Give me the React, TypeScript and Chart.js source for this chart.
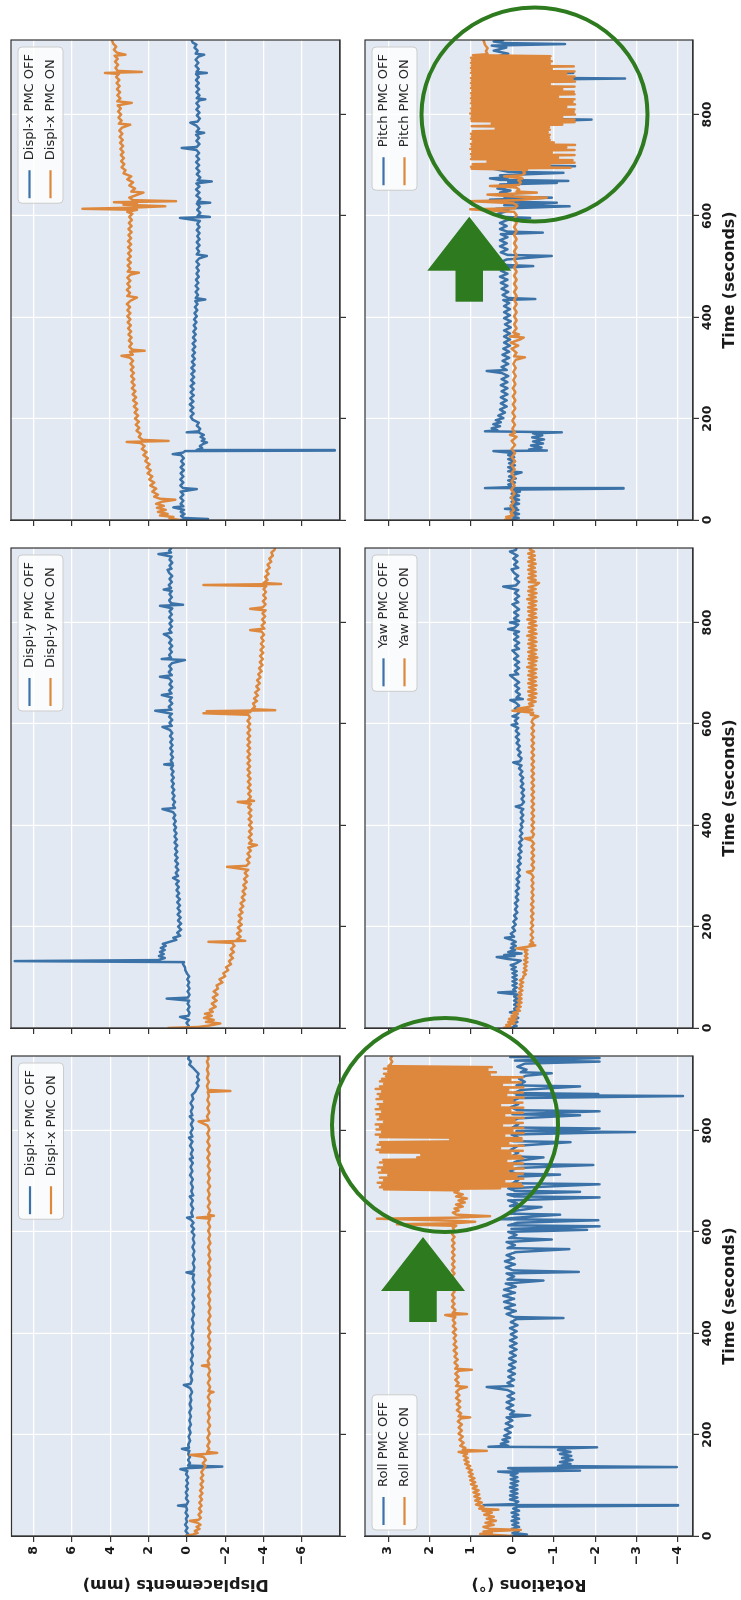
import React, { useEffect, useRef } from 'react';
import { Chart, registerables } from 'chart.js';

Chart.register(...registerables);

type Pt = [number, number];

// ---------------- axis ranges, ticks, titles ----------------
const timeRange: [number, number] = [0, 947];
const timeStep = 200;
const dispRange: [number, number] = [-7.98, 9.16];
const dispStep = 2;
const rotRange: [number, number] = [-4.36, 3.56];
const rotStep = 1;
const timeTitle = 'Time (seconds)';
const dispTitle = 'Displacements (mm)';
const rotTitle = 'Rotations (°)';

// ---------------- legend labels ----------------
const dispXLabels = ['Displ-x PMC OFF', 'Displ-x PMC ON'];
const dispYLabels = ['Displ-y PMC OFF', 'Displ-y PMC ON'];
const dispX2Labels = ['Displ-x PMC OFF', 'Displ-x PMC ON'];
const rollLabels = ['Roll PMC OFF', 'Roll PMC ON'];
const yawLabels = ['Yaw PMC OFF', 'Yaw PMC ON'];
const pitchLabels = ['Pitch PMC OFF', 'Pitch PMC ON'];

// ---------------- series: [time (s), value] ----------------
const dispXOff: Pt[] = [[0,0.05],[4,-0.05],[10,0.08],[16,-0.02],[22,0.1],[28,0.0],[34,0.06],[40,-0.04],[46,0.08],[52,0.0],[58,0.05],[60,0.47],[62,0.02],[68,-0.06],[74,0.06],[80,-0.02],[86,0.07],[92,-0.04],[98,0.05],[104,-0.05],[110,0.04],[116,-0.06],[122,0.05],[128,-0.02],[132,0.35],[134,-0.1],[137,-1.83],[139,-0.05],[144,-0.15],[150,-0.05],[156,-0.15],[162,-0.06],[168,-0.12],[172,0.26],[174,-0.1],[180,-0.06],[188,-0.16],[196,-0.08],[204,-0.18],[212,-0.1],[220,-0.2],[228,-0.12],[236,-0.2],[244,-0.12],[252,-0.22],[260,-0.14],[268,-0.22],[276,-0.16],[284,-0.26],[292,-0.16],[298,0.17],[300,-0.18],[308,-0.26],[316,-0.18],[324,-0.28],[332,-0.2],[340,-0.3],[348,-0.2],[356,-0.3],[364,-0.22],[372,-0.32],[380,-0.22],[388,-0.32],[396,-0.24],[404,-0.34],[412,-0.26],[420,-0.34],[428,-0.26],[436,-0.36],[444,-0.28],[452,-0.36],[460,-0.28],[468,-0.38],[476,-0.28],[484,-0.36],[492,-0.28],[500,-0.38],[508,-0.3],[516,-0.36],[520,0.03],[522,-0.32],[530,-0.38],[538,-0.3],[546,-0.4],[554,-0.3],[562,-0.38],[570,-0.28],[578,-0.38],[586,-0.3],[594,-0.38],[600,-0.24],[606,-0.36],[612,-0.22],[618,-0.34],[624,-0.2],[628,0.0],[630,-0.3],[638,-0.22],[646,-0.32],[654,-0.2],[662,-0.3],[670,-0.14],[672,-0.32],[680,-0.22],[688,-0.3],[696,-0.2],[704,-0.3],[712,-0.16],[720,-0.28],[728,-0.18],[736,-0.3],[744,-0.14],[746,-0.3],[754,-0.2],[762,-0.3],[770,-0.16],[778,-0.28],[786,-0.1],[788,-0.28],[796,-0.18],[804,-0.3],[812,-0.2],[820,-0.32],[828,-0.14],[830,-0.28],[838,-0.2],[846,-0.3],[854,-0.18],[862,-0.32],[870,-0.25],[876,-0.42],[882,-0.5],[888,-0.6],[894,-0.5],[900,-0.62],[906,-0.52],[912,-0.6],[918,-0.45],[924,-0.3],[930,-0.12],[936,-0.2],[942,-0.05],[947,-0.12]];

const dispXOn: Pt[] = [[0,0.1],[3,-0.3],[6,-0.55],[10,-0.4],[14,-0.65],[18,-0.5],[22,-0.7],[26,-0.55],[30,-0.15],[32,-0.6],[36,-0.72],[42,-0.6],[48,-0.74],[54,-0.62],[60,-0.76],[66,-0.64],[72,-0.78],[78,-0.66],[84,-0.8],[90,-0.68],[96,-0.82],[102,-0.7],[108,-0.84],[114,-0.72],[120,-0.84],[126,-0.74],[132,-0.86],[138,-0.96],[144,-0.82],[150,-0.98],[156,-0.86],[160,-0.17],[162,-1.0],[164,-1.57],[166,-1.05],[172,-1.16],[178,-1.06],[186,-1.18],[194,-1.06],[202,-1.18],[210,-1.08],[218,-1.2],[226,-1.08],[234,-1.18],[242,-1.08],[250,-1.2],[258,-1.1],[266,-1.2],[274,-1.08],[282,-1.2],[284,-1.38],[286,-1.12],[294,-1.2],[302,-1.08],[310,-1.2],[318,-1.1],[326,-1.2],[334,-1.1],[336,-0.78],[338,-1.16],[346,-1.08],[354,-1.2],[362,-1.1],[370,-1.22],[378,-1.1],[386,-1.2],[394,-1.1],[402,-1.22],[410,-1.1],[418,-1.2],[426,-1.1],[434,-1.22],[442,-1.12],[450,-1.22],[458,-1.12],[466,-1.2],[474,-1.1],[482,-1.22],[490,-1.12],[498,-1.2],[506,-1.1],[514,-1.22],[522,-1.12],[530,-1.2],[538,-1.1],[546,-1.22],[554,-1.12],[562,-1.2],[570,-1.1],[578,-1.22],[586,-1.12],[594,-1.2],[602,-1.1],[610,-1.2],[618,-1.1],[626,-1.2],[628,-0.52],[630,-1.16],[632,-1.4],[634,-1.1],[642,-1.2],[650,-1.08],[658,-1.2],[666,-1.08],[674,-1.18],[682,-1.08],[690,-1.2],[698,-1.08],[706,-1.18],[714,-1.08],[722,-1.2],[730,-1.08],[738,-1.18],[746,-1.06],[754,-1.18],[762,-1.06],[770,-1.18],[778,-1.06],[786,-1.16],[794,-1.06],[802,-1.16],[810,-1.06],[818,-0.6],[820,-1.14],[828,-1.04],[836,-1.16],[844,-1.06],[852,-1.16],[860,-1.06],[868,-1.14],[876,-1.08],[878,-2.26],[880,-1.1],[888,-1.04],[896,-1.14],[904,-1.04],[912,-1.12],[920,-1.04],[928,-1.12],[936,-1.04],[942,-1.12],[947,-1.08]];

const dispYOff: Pt[] = [[0,0.05],[4,-0.1],[10,0.02],[16,-0.12],[22,0.35],[24,-0.08],[30,-0.14],[36,-0.04],[42,-0.14],[48,-0.04],[54,-0.12],[58,1.04],[60,-0.06],[66,-0.14],[72,-0.04],[78,-0.14],[84,-0.04],[90,-0.12],[96,-0.02],[102,-0.12],[108,0.0],[114,0.08],[120,0.1],[126,0.2],[130,0.15],[132,8.96],[134,1.5],[138,1.15],[142,1.45],[146,1.2],[150,1.4],[154,1.15],[158,1.35],[162,1.1],[166,1.25],[170,0.9],[174,0.55],[178,0.7],[182,0.35],[188,0.5],[194,0.3],[200,0.45],[206,0.3],[212,0.46],[218,0.32],[224,0.48],[230,0.34],[236,0.48],[242,0.36],[248,0.5],[254,0.36],[260,0.52],[266,0.4],[272,0.54],[278,0.42],[284,0.56],[290,0.42],[296,0.72],[300,0.46],[306,0.58],[312,0.44],[318,0.58],[324,0.46],[330,0.6],[336,0.48],[342,0.62],[348,0.5],[354,0.62],[360,0.5],[366,0.64],[372,0.52],[378,0.64],[384,0.54],[390,0.66],[396,0.56],[402,0.68],[408,0.58],[414,0.7],[420,0.6],[426,0.72],[432,1.27],[434,0.62],[440,0.72],[446,0.62],[452,0.74],[458,0.64],[464,0.76],[470,0.66],[476,0.78],[482,0.68],[488,0.8],[494,0.68],[500,0.8],[506,0.7],[512,0.82],[518,0.72],[520,1.18],[522,0.74],[528,0.84],[534,0.72],[540,0.84],[546,0.74],[552,0.86],[558,0.74],[564,0.86],[570,0.74],[576,0.88],[582,0.76],[588,0.88],[594,1.27],[596,0.78],[602,0.9],[608,0.76],[614,0.92],[620,0.78],[626,1.65],[628,0.8],[634,0.94],[640,0.76],[646,0.9],[652,0.78],[657,1.3],[660,0.8],[666,0.92],[672,0.76],[678,0.9],[684,0.78],[690,0.92],[693,1.4],[696,0.78],[702,0.94],[708,0.8],[714,0.92],[720,0.76],[726,0.1],[728,1.3],[730,0.82],[736,0.92],[742,0.78],[748,0.9],[754,0.76],[760,0.92],[766,0.8],[772,0.94],[777,1.2],[780,0.8],[786,0.92],[792,0.78],[798,0.9],[804,0.76],[810,0.92],[816,0.78],[822,0.9],[828,0.76],[833,1.4],[835,0.2],[838,0.82],[844,0.92],[850,0.78],[856,0.9],[862,0.78],[865,1.2],[868,0.82],[874,0.94],[880,0.78],[886,0.9],[892,0.76],[898,0.92],[904,1.0],[906,0.8],[912,0.9],[918,0.76],[924,0.9],[930,0.8],[935,1.48],[938,0.82],[942,0.92],[947,0.8]];

const dispYOn: Pt[] = [[0,1.0],[2,-0.6],[5,-1.2],[9,-1.74],[12,-1.0],[16,-1.4],[20,-0.9],[24,-1.3],[28,-0.95],[32,-1.35],[36,-1.2],[42,-1.5],[48,-1.3],[54,-1.55],[60,-1.35],[66,-1.6],[72,-1.4],[78,-1.62],[84,-1.55],[90,-1.85],[96,-1.7],[102,-2.0],[108,-1.9],[114,-2.15],[120,-2.05],[126,-2.3],[132,-2.2],[138,-2.4],[144,-2.25],[150,-2.45],[156,-2.3],[162,-2.48],[168,-2.35],[170,-1.13],[172,-3.04],[174,-2.6],[180,-2.8],[186,-2.62],[192,-2.82],[198,-2.66],[204,-2.86],[210,-2.7],[216,-2.86],[222,-2.7],[228,-2.9],[234,-2.76],[240,-2.94],[246,-2.8],[252,-3.0],[258,-2.86],[264,-3.04],[270,-2.9],[276,-3.08],[282,-2.94],[288,-3.12],[294,-2.98],[300,-3.16],[306,-3.02],[312,-3.2],[318,-2.1],[320,-3.1],[326,-3.26],[332,-3.12],[338,-3.3],[344,-3.16],[350,-3.34],[356,-3.2],[361,-3.65],[364,-3.24],[370,-3.38],[376,-3.22],[382,-3.38],[388,-3.24],[394,-3.4],[400,-3.24],[406,-3.38],[412,-3.22],[418,-3.36],[424,-3.22],[430,-3.36],[436,-3.2],[442,-3.34],[446,-2.65],[448,-3.5],[450,-3.2],[456,-3.34],[462,-3.2],[468,-3.34],[474,-3.18],[480,-3.32],[486,-3.18],[492,-3.32],[498,-3.18],[504,-3.3],[510,-3.16],[516,-3.3],[522,-3.16],[528,-3.3],[534,-3.16],[540,-3.3],[546,-3.16],[552,-3.3],[558,-3.16],[564,-3.3],[570,-3.16],[576,-3.3],[582,-3.16],[588,-3.3],[594,-3.18],[600,-3.3],[606,-3.16],[612,-3.3],[618,-3.2],[621,-0.87],[623,-3.3],[625,-1.04],[627,-4.6],[629,-3.4],[634,-3.55],[640,-3.45],[645,-3.65],[650,-3.5],[656,-3.7],[662,-3.56],[668,-3.76],[674,-3.62],[680,-3.8],[686,-3.66],[692,-3.84],[698,-3.72],[704,-3.9],[710,-3.76],[716,-3.94],[722,-3.8],[728,-3.96],[734,-3.82],[740,-3.98],[746,-3.84],[752,-4.0],[758,-3.86],[764,-4.0],[770,-3.88],[776,-4.02],[782,-3.9],[785,-3.3],[788,-4.04],[794,-3.9],[800,-4.06],[806,-3.92],[812,-4.08],[818,-3.94],[824,-4.1],[827,-3.3],[830,-3.96],[836,-4.1],[842,-3.96],[848,-4.12],[854,-3.98],[860,-4.12],[866,-4.0],[872,-4.14],[874,-0.87],[876,-4.9],[878,-4.0],[884,-4.2],[890,-4.08],[896,-4.26],[902,-4.14],[908,-4.32],[914,-4.2],[920,-4.4],[926,-4.3],[932,-4.48],[938,-4.4],[943,-4.56],[947,-4.6]];

const dispX2Off: Pt[] = [[0,0.35],[2,-1.1],[4,0.15],[8,0.3],[12,0.12],[16,0.32],[20,0.15],[25,0.7],[27,0.18],[32,0.32],[38,0.18],[44,0.34],[50,0.18],[56,0.32],[61,-0.52],[63,0.2],[68,0.34],[74,0.18],[80,0.34],[86,0.18],[92,0.32],[98,0.16],[104,0.32],[110,0.16],[116,0.3],[122,0.16],[128,0.3],[130,0.73],[133,0.2],[136,0.1],[137,-7.7],[138,-0.5],[142,-0.8],[146,-0.68],[150,-0.85],[153,-1.05],[156,-0.78],[160,-0.92],[164,-0.72],[168,-0.88],[172,-0.65],[173,0.0],[175,-0.6],[180,-0.7],[186,-0.52],[192,-0.62],[198,-0.3],[204,-0.2],[210,-0.36],[216,-0.18],[222,-0.34],[228,-0.16],[234,-0.34],[240,-0.18],[246,-0.36],[252,-0.2],[258,-0.36],[264,-0.2],[270,-0.38],[276,-0.22],[282,-0.38],[288,-0.24],[294,-0.4],[300,-0.24],[306,-0.4],[312,-0.26],[318,-0.42],[324,-0.28],[330,-0.42],[336,-0.3],[342,-0.44],[348,-0.3],[354,-0.46],[360,-0.32],[366,-0.46],[372,-0.34],[378,-0.48],[384,-0.36],[390,-0.5],[396,-0.38],[402,-0.52],[408,-0.4],[414,-0.54],[420,-0.42],[426,-0.56],[432,-0.44],[435,-0.96],[438,-0.46],[444,-0.58],[450,-0.46],[456,-0.6],[462,-0.46],[468,-0.6],[474,-0.48],[480,-0.62],[486,-0.5],[492,-0.62],[498,-0.5],[504,-0.64],[510,-0.5],[516,-0.64],[521,-1.04],[524,-0.52],[530,-0.64],[536,-0.52],[542,-0.66],[548,-0.52],[554,-0.66],[560,-0.54],[566,-0.66],[572,-0.52],[578,-0.66],[584,-0.54],[590,-0.68],[596,0.35],[598,-1.2],[600,-0.56],[606,-0.7],[612,-0.54],[618,-0.68],[624,-0.52],[626,-1.22],[628,-0.56],[634,-0.7],[640,-0.5],[646,-0.66],[652,-0.48],[658,-0.66],[664,-0.5],[668,-1.3],[670,-0.56],[676,-0.7],[682,-0.52],[688,-0.66],[694,-0.5],[700,-0.64],[706,-0.48],[712,-0.64],[718,-0.5],[724,-0.64],[730,-0.5],[734,0.26],[736,-0.52],[742,-0.66],[748,-0.5],[754,-0.64],[760,-0.48],[764,-0.9],[766,-0.5],[772,-0.64],[778,-0.5],[784,-0.18],[786,-0.56],[792,-0.68],[798,-0.52],[804,-0.66],[810,-0.5],[816,-0.64],[822,-0.5],[828,-0.66],[830,-0.96],[832,-0.52],[838,-0.66],[844,-0.5],[850,-0.64],[856,-0.48],[862,-0.62],[868,-0.48],[874,-0.62],[880,-0.48],[882,-1.04],[884,-0.5],[890,-0.62],[896,-0.46],[902,-0.6],[908,-0.46],[914,-0.6],[918,-0.9],[920,-0.46],[926,-0.56],[932,-0.4],[938,-0.5],[942,-0.3],[947,-0.26]];

const dispX2On: Pt[] = [[0,0.35],[3,0.9],[6,0.7],[9,1.4],[12,1.0],[16,1.5],[20,1.1],[24,1.55],[28,1.2],[32,1.6],[36,1.3],[40,0.6],[42,1.4],[46,1.7],[50,1.5],[56,1.8],[62,1.6],[68,1.9],[74,1.7],[80,1.96],[86,1.8],[92,2.04],[98,1.88],[104,2.1],[110,1.94],[116,2.16],[122,2.04],[128,2.26],[134,2.1],[140,2.34],[146,2.2],[152,2.42],[154,3.13],[156,0.96],[158,2.3],[164,2.5],[170,2.4],[176,2.62],[182,2.48],[188,2.66],[194,2.5],[200,2.7],[206,2.54],[212,2.72],[218,2.58],[224,2.76],[230,2.6],[236,2.8],[242,2.64],[248,2.82],[254,2.68],[260,2.86],[266,2.72],[272,2.88],[278,2.74],[284,2.9],[290,2.76],[296,2.92],[302,2.78],[308,2.94],[314,2.8],[320,2.96],[324,3.4],[326,2.82],[332,2.96],[334,2.2],[336,2.84],[342,3.0],[348,2.86],[354,3.02],[360,2.88],[366,3.04],[372,2.9],[378,3.06],[384,2.92],[390,3.08],[396,2.94],[402,3.1],[408,2.94],[414,3.1],[420,2.96],[426,3.12],[432,2.96],[439,2.6],[442,3.1],[448,2.96],[454,3.12],[460,2.96],[466,3.1],[472,2.94],[478,3.1],[484,2.94],[488,2.5],[490,3.08],[496,2.94],[502,3.08],[508,2.92],[514,3.08],[520,2.92],[526,3.06],[532,2.9],[538,3.06],[544,2.9],[550,3.06],[556,2.9],[562,3.04],[568,2.88],[574,3.04],[580,2.88],[586,3.02],[592,2.86],[598,3.0],[604,2.84],[608,3.1],[612,2.6],[614,5.43],[616,3.0],[619,1.13],[622,3.3],[625,2.6],[627,3.8],[629,0.57],[631,2.8],[636,3.0],[640,2.7],[646,2.26],[648,2.9],[654,2.7],[660,3.0],[666,2.8],[672,3.1],[678,2.9],[684,3.3],[690,3.2],[696,3.4],[702,3.26],[708,3.42],[714,3.28],[720,3.44],[726,3.3],[732,3.46],[738,3.32],[744,3.48],[750,3.34],[756,3.5],[762,3.36],[768,3.52],[774,3.38],[780,2.95],[782,3.54],[788,3.4],[794,3.56],[800,3.42],[806,3.58],[812,3.44],[818,3.6],[823,2.87],[826,3.62],[832,3.46],[838,3.62],[844,3.48],[850,3.64],[856,3.5],[862,3.66],[868,3.52],[874,3.68],[880,3.54],[882,4.26],[884,2.35],[886,3.6],[892,3.72],[898,3.58],[904,3.74],[910,3.6],[916,3.76],[918,3.2],[922,3.64],[928,3.8],[934,3.68],[940,3.84],[947,3.9]];

const rollOff: Pt[] = [[0,0.05],[3,-0.35],[6,0.0],[10,-0.15],[14,0.02],[18,-0.16],[22,0.0],[26,-0.14],[30,0.02],[34,-0.16],[38,0.0],[42,-0.14],[46,0.02],[50,-0.16],[54,-0.02],[58,-0.14],[60,-4.0],[61,0.7],[63,-0.05],[68,-0.14],[72,0.06],[76,-0.12],[80,0.06],[84,-0.12],[88,0.04],[92,-0.12],[96,0.06],[100,-0.12],[104,0.04],[108,-0.14],[112,0.04],[116,-0.12],[120,0.04],[124,-0.12],[127,0.34],[129,-1.63],[131,-0.1],[134,0.1],[136,-3.97],[138,-1.1],[142,-1.4],[146,-1.15],[150,-1.45],[154,-1.2],[158,-1.42],[162,-1.15],[166,-1.4],[170,-1.1],[173,-1.3],[175,-2.04],[176,0.58],[178,0.1],[182,0.28],[186,0.1],[190,0.24],[194,0.06],[198,0.2],[204,0.04],[210,0.18],[216,0.0],[222,0.16],[228,0.0],[234,0.14],[238,-0.43],[240,0.06],[246,-0.04],[252,0.14],[258,-0.02],[264,0.14],[270,-0.04],[276,0.12],[282,-0.04],[288,0.12],[294,0.62],[296,-0.02],[302,0.12],[308,-0.04],[314,0.1],[320,-0.06],[326,0.1],[332,-0.06],[338,0.08],[344,-0.08],[350,0.08],[356,-0.08],[362,0.06],[368,-0.1],[374,0.06],[380,-0.1],[386,0.06],[392,-0.1],[398,0.04],[404,-0.1],[410,0.06],[416,-0.12],[422,0.04],[428,-0.1],[430,-1.23],[432,-0.04],[438,0.14],[444,-0.08],[450,0.18],[456,-0.06],[462,0.2],[468,-0.04],[474,0.22],[480,-0.06],[486,0.2],[492,-0.08],[498,0.16],[504,-0.75],[506,0.12],[512,-0.04],[518,0.14],[521,-1.6],[524,-0.02],[530,0.16],[536,-0.06],[542,0.18],[548,-0.04],[554,0.14],[560,-0.08],[566,-1.37],[568,0.12],[574,-0.06],[580,0.14],[585,-0.95],[588,0.08],[594,-0.1],[600,0.1],[604,-1.8],[606,0.02],[611,-2.1],[613,0.1],[618,-0.12],[623,-2.07],[625,0.3],[628,-0.1],[634,-1.15],[636,0.08],[642,-0.1],[649,-0.7],[651,0.06],[656,-0.12],[662,0.1],[668,-2.1],[670,-0.04],[674,0.12],[679,-1.63],[681,-0.06],[686,0.1],[694,-2.1],[696,0.0],[702,-0.14],[708,0.08],[713,-1.15],[715,-0.08],[720,0.08],[726,-0.12],[732,-1.95],[734,0.04],[740,-0.12],[747,-0.75],[749,0.02],[756,-0.14],[762,0.04],[770,-0.14],[777,-1.4],[779,0.0],[786,-0.14],[792,0.02],[796,-2.1],[797,-2.96],[799,-0.1],[804,-2.1],[806,0.0],[812,-0.14],[818,0.02],[824,-0.14],[830,-1.63],[832,0.0],[838,-2.1],[840,-0.12],[846,0.04],[852,-0.14],[858,0.02],[864,-0.16],[868,-4.12],[870,-0.1],[872,-2.07],[874,-0.04],[880,-0.2],[887,-1.63],[889,-0.1],[896,-0.3],[902,-0.16],[908,-0.32],[913,-0.95],[915,-0.2],[920,-0.34],[926,-0.12],[932,-0.3],[936,-2.1],[938,-0.06],[943,-2.1],[945,0.05],[947,-0.1]];

const rollOn: Pt[] = [[0,0.0],[2,0.4],[4,0.78],[6,0.5],[9,0.7],[12,-0.2],[14,0.55],[18,0.7],[22,0.45],[26,0.65],[30,0.4],[34,0.62],[38,0.45],[42,0.68],[46,0.5],[50,0.72],[52,0.34],[54,0.8],[58,0.7],[62,0.88],[66,0.74],[70,0.9],[74,0.78],[78,0.92],[82,0.8],[86,0.94],[90,0.82],[94,0.96],[98,0.86],[102,1.0],[106,0.9],[110,1.02],[114,0.92],[118,1.04],[122,0.96],[126,1.06],[130,0.98],[134,1.1],[138,1.02],[142,1.14],[146,1.06],[150,1.16],[154,1.08],[158,1.18],[162,1.1],[166,1.3],[168,0.62],[170,1.2],[174,1.14],[178,1.26],[184,1.18],[190,1.28],[196,1.2],[202,1.3],[208,1.22],[214,1.3],[220,1.22],[226,1.32],[232,1.24],[234,1.02],[236,1.3],[242,1.24],[248,1.34],[254,1.26],[260,1.34],[266,1.26],[272,1.36],[278,1.28],[284,1.36],[290,1.28],[294,1.1],[296,1.36],[302,1.3],[308,1.38],[314,1.3],[320,1.38],[326,1.3],[328,0.98],[330,1.38],[336,1.32],[342,1.4],[348,1.32],[354,1.4],[360,1.34],[366,1.42],[372,1.34],[378,1.42],[384,1.36],[390,1.42],[396,1.36],[402,1.44],[408,1.36],[414,1.44],[420,1.38],[426,1.44],[432,1.38],[436,1.62],[438,1.1],[440,1.44],[446,1.38],[452,1.46],[458,1.4],[464,1.46],[470,1.4],[476,1.46],[482,1.4],[488,1.46],[494,1.4],[500,1.46],[506,1.4],[512,1.46],[518,1.4],[524,1.46],[530,1.4],[536,1.46],[542,1.4],[548,1.46],[554,1.4],[560,1.46],[566,1.4],[572,1.46],[578,1.4],[584,1.46],[590,1.4],[596,1.46],[602,1.4],[608,1.44],[612,1.36],[615,2.79],[617,1.4],[620,0.9],[622,1.44],[626,3.27],[628,1.4],[631,0.54],[634,1.36],[638,1.44],[642,1.3],[646,1.4],[650,1.2],[654,1.36],[658,1.15],[662,1.3],[666,1.1],[670,1.36],[674,1.2],[678,1.4],[682,1.3],[684,3.1],[686,0.3],[688,3.2],[690,-0.25],[692,3.15],[695,-0.2],[697,3.25],[700,0.2],[702,3.1],[705,-0.26],[707,3.2],[710,-0.1],[712,3.0],[715,-0.25],[717,3.22],[720,0.1],[722,3.15],[725,-0.27],[727,3.25],[730,0.0],[732,3.1],[735,-0.25],[737,3.2],[740,0.15],[742,3.12],[745,-0.26],[747,2.3],[750,-0.2],[752,2.2],[755,0.05],[757,3.2],[760,-0.25],[762,3.28],[765,0.3],[767,3.15],[770,-0.27],[772,3.25],[775,0.1],[777,3.2],[780,-0.24],[783,1.5],[785,-0.22],[787,3.2],[790,0.2],[792,3.3],[795,-0.27],[797,3.15],[800,0.0],[802,3.28],[805,-0.26],[807,3.2],[810,0.25],[812,3.3],[815,-0.25],[817,3.1],[820,-0.05],[822,3.25],[825,-0.27],[827,3.2],[830,0.2],[832,3.28],[835,-0.25],[837,3.15],[840,0.05],[842,3.3],[845,-0.26],[847,3.2],[850,0.3],[852,3.25],[855,-0.24],[857,3.1],[860,0.0],[862,3.28],[865,-0.27],[867,3.2],[870,0.15],[872,3.25],[875,-0.25],[877,3.15],[880,0.1],[882,3.3],[885,-0.26],[887,3.2],[890,0.25],[892,3.1],[895,-0.2],[897,3.2],[900,0.05],[902,3.15],[905,-0.25],[907,3.05],[910,0.55],[912,3.1],[915,0.4],[917,3.0],[920,0.6],[922,3.1],[925,0.5],[927,3.0],[930,2.95],[936,2.9],[942,2.95],[947,2.9]];

const yawOff: Pt[] = [[0,0.05],[4,-0.1],[8,0.0],[12,-0.12],[16,-0.02],[20,-0.14],[24,-0.04],[28,-0.12],[31,0.06],[34,-0.12],[38,-0.04],[42,-0.14],[46,-0.04],[50,-0.12],[54,-0.04],[58,-0.12],[62,-0.04],[66,-0.12],[70,0.34],[72,-0.08],[76,-0.02],[80,-0.1],[84,0.0],[88,-0.1],[92,0.0],[96,-0.1],[100,0.0],[104,-0.1],[108,0.0],[112,-0.1],[116,0.02],[120,-0.08],[124,0.04],[128,-0.1],[133,-0.2],[136,0.1],[140,0.38],[142,-0.05],[144,0.2],[147,-0.22],[150,0.1],[154,-0.06],[158,0.04],[162,-0.08],[166,0.02],[170,-0.08],[174,0.02],[178,0.18],[180,-0.04],[186,0.04],[192,-0.06],[198,0.0],[204,-0.08],[210,-0.02],[216,-0.1],[222,-0.04],[228,-0.12],[234,-0.06],[240,-0.12],[246,-0.06],[252,-0.14],[258,-0.08],[264,-0.14],[270,-0.08],[276,-0.16],[282,-0.1],[288,-0.16],[294,-0.1],[300,-0.18],[306,-0.12],[312,-0.18],[318,-0.12],[324,-0.2],[330,-0.14],[336,-0.2],[342,-0.14],[348,-0.22],[354,-0.16],[360,-0.22],[366,-0.16],[372,-0.24],[378,-0.18],[384,-0.24],[390,-0.18],[396,-0.24],[402,-0.2],[408,-0.26],[414,-0.2],[420,-0.26],[426,-0.2],[432,-0.26],[437,-0.08],[440,-0.22],[446,-0.28],[452,-0.22],[458,-0.28],[464,-0.22],[470,-0.28],[476,-0.2],[482,-0.26],[488,-0.2],[494,-0.26],[500,-0.18],[506,-0.24],[512,-0.16],[518,-0.22],[524,-0.02],[526,-0.18],[532,-0.22],[538,-0.14],[544,-0.2],[550,-0.12],[556,-0.18],[562,-0.1],[568,-0.16],[574,-0.08],[580,-0.16],[586,-0.08],[592,-0.14],[598,0.02],[600,-0.12],[606,-0.06],[612,-0.14],[615,0.0],[618,-0.1],[624,-0.18],[630,-0.06],[636,-0.16],[642,-0.08],[647,0.05],[649,-0.25],[652,-0.1],[658,-0.18],[664,-0.08],[670,-0.16],[676,-0.06],[682,-0.16],[688,-0.06],[696,0.06],[698,-0.14],[704,-0.06],[710,-0.16],[716,-0.06],[722,-0.16],[728,-0.04],[734,-0.14],[740,-0.06],[745,0.0],[748,-0.16],[754,-0.06],[760,-0.16],[766,-0.04],[772,-0.14],[778,-0.04],[782,-0.16],[787,0.1],[790,-0.06],[796,-0.14],[800,0.06],[803,-0.16],[808,-0.04],[814,-0.14],[820,-0.04],[826,-0.16],[832,-0.06],[836,0.0],[840,-0.14],[846,-0.06],[852,-0.16],[858,-0.06],[864,-0.14],[871,0.22],[873,-0.08],[880,-0.16],[886,-0.06],[892,-0.14],[898,-0.04],[905,0.02],[908,-0.14],[914,-0.04],[920,-0.12],[926,-0.02],[932,-0.12],[940,0.06],[943,-0.08],[947,-0.1]];

const yawOn: Pt[] = [[0,0.22],[3,0.05],[6,0.15],[9,-0.05],[12,0.1],[15,-0.08],[18,0.08],[21,-0.1],[24,0.02],[27,-0.12],[30,-0.02],[34,-0.18],[38,-0.1],[42,-0.2],[46,-0.12],[50,-0.22],[54,-0.14],[58,-0.22],[62,-0.14],[66,-0.22],[70,-0.16],[74,-0.24],[78,-0.16],[82,-0.24],[86,-0.18],[90,-0.26],[94,-0.18],[98,-0.26],[102,-0.26],[106,-0.32],[110,-0.26],[114,-0.34],[118,-0.28],[122,-0.34],[126,-0.28],[130,-0.36],[134,-0.28],[138,-0.36],[142,-0.3],[146,-0.36],[150,-0.3],[154,-0.36],[157,-0.1],[160,-0.34],[163,-0.55],[165,-0.42],[168,-0.5],[172,-0.44],[178,-0.5],[184,-0.44],[190,-0.5],[196,-0.44],[202,-0.5],[208,-0.45],[214,-0.5],[220,-0.45],[226,-0.51],[232,-0.45],[238,-0.51],[244,-0.45],[250,-0.51],[256,-0.46],[262,-0.51],[268,-0.46],[274,-0.51],[280,-0.46],[286,-0.51],[292,-0.46],[298,-0.51],[304,-0.46],[308,-0.35],[310,-0.48],[316,-0.52],[322,-0.46],[328,-0.52],[334,-0.46],[340,-0.52],[346,-0.46],[352,-0.52],[358,-0.46],[364,-0.52],[370,-0.46],[374,-0.3],[376,-0.48],[382,-0.52],[388,-0.46],[394,-0.52],[400,-0.46],[406,-0.52],[412,-0.46],[418,-0.52],[424,-0.46],[430,-0.52],[436,-0.46],[442,-0.52],[448,-0.46],[454,-0.52],[460,-0.46],[466,-0.52],[472,-0.46],[478,-0.52],[484,-0.46],[490,-0.52],[496,-0.46],[502,-0.52],[508,-0.46],[514,-0.52],[520,-0.46],[526,-0.52],[532,-0.46],[538,-0.52],[544,-0.46],[550,-0.52],[556,-0.46],[562,-0.52],[568,-0.46],[574,-0.52],[580,-0.46],[586,-0.52],[592,-0.46],[598,-0.52],[604,-0.46],[610,-0.5],[615,-0.62],[618,-0.44],[622,-0.5],[626,0.0],[628,-0.48],[630,-0.12],[633,-0.36],[636,-0.5],[640,-0.4],[644,-0.56],[648,-0.38],[652,-0.56],[656,-0.4],[660,-0.58],[664,-0.38],[668,-0.56],[672,-0.4],[676,-0.58],[680,-0.38],[684,-0.56],[688,-0.4],[692,-0.58],[696,-0.38],[700,-0.56],[704,-0.4],[708,-0.58],[712,-0.36],[716,-0.56],[720,-0.4],[724,-0.58],[728,-0.38],[731,-0.6],[734,-0.4],[738,-0.56],[742,-0.38],[746,-0.58],[750,-0.4],[754,-0.56],[758,-0.38],[762,-0.58],[766,-0.4],[770,-0.56],[774,-0.36],[778,-0.58],[782,-0.4],[786,-0.56],[790,-0.38],[794,-0.58],[798,-0.4],[802,-0.56],[806,-0.36],[810,-0.58],[814,-0.4],[818,-0.56],[822,-0.38],[826,-0.58],[830,-0.38],[834,-0.56],[838,-0.4],[842,-0.58],[846,-0.36],[850,-0.56],[854,-0.4],[858,-0.58],[862,-0.38],[866,-0.56],[870,-0.4],[874,-0.58],[878,-0.64],[880,-0.4],[884,-0.56],[888,-0.38],[892,-0.56],[896,-0.4],[900,-0.56],[904,-0.38],[908,-0.54],[912,-0.4],[916,-0.56],[920,-0.38],[924,-0.54],[928,-0.4],[932,-0.54],[936,-0.38],[940,-0.52],[944,-0.42],[947,-0.46]];

const pitchOff: Pt[] = [[0,0.05],[4,-0.15],[8,0.05],[12,-0.16],[16,0.04],[20,-0.14],[22,0.18],[24,-0.1],[28,0.04],[32,-0.16],[36,0.02],[40,-0.16],[44,0.04],[48,-0.16],[52,0.02],[56,-0.18],[60,0.0],[62,-2.68],[63,0.66],[65,0.0],[70,0.1],[74,-0.06],[78,0.1],[82,-0.08],[86,0.08],[90,-0.06],[94,-0.22],[96,0.1],[100,-0.04],[104,0.1],[108,-0.06],[112,0.08],[116,-0.06],[120,0.1],[124,-0.04],[128,0.1],[132,-0.02],[136,0.46],[137,-0.83],[139,-0.4],[143,-0.7],[147,-0.45],[151,-0.74],[155,-0.5],[159,-0.76],[163,-0.48],[167,-0.72],[171,-0.5],[173,-1.19],[175,0.66],[177,0.36],[181,0.5],[185,0.3],[189,0.46],[193,0.28],[197,0.4],[201,0.22],[206,0.34],[212,0.18],[218,0.3],[224,0.14],[230,0.28],[236,0.14],[242,0.28],[248,0.12],[254,0.26],[260,0.12],[266,0.28],[272,0.12],[278,0.26],[284,0.1],[290,0.26],[294,0.62],[296,0.14],[302,0.26],[308,0.1],[314,0.24],[320,0.08],[326,0.24],[332,0.08],[338,0.22],[344,0.06],[350,0.2],[356,0.06],[362,0.2],[368,0.06],[374,0.2],[380,0.04],[386,0.18],[392,0.04],[398,0.2],[404,0.06],[410,0.2],[416,0.06],[422,0.2],[428,0.08],[434,0.22],[436,-0.55],[438,0.1],[444,0.24],[450,0.1],[456,0.26],[462,0.12],[468,0.28],[474,0.12],[480,0.3],[486,0.12],[492,0.28],[498,0.12],[501,-0.5],[503,0.14],[508,0.3],[514,0.14],[521,-0.95],[523,0.12],[528,0.28],[534,0.12],[540,0.3],[546,0.14],[552,0.3],[558,0.12],[564,0.28],[567,-0.73],[569,0.12],[574,0.3],[580,0.14],[586,0.3],[592,0.12],[596,-0.43],[598,0.2],[604,0.36],[610,0.1],[614,0.4],[619,-1.38],[621,0.2],[626,-1.07],[628,0.1],[632,0.54],[636,-0.95],[638,0.2],[642,0.0],[646,0.3],[650,0.05],[654,0.36],[658,0.08],[662,0.3],[665,-1.07],[667,0.1],[669,-1.35],[671,0.3],[674,0.54],[676,0.1],[680,0.3],[685,-1.23],[687,0.1],[691,0.34],[695,0.58],[698,-1.51],[700,0.2],[705,0.0],[710,0.3],[716,0.05],[722,0.3],[728,0.05],[734,0.3],[738,-0.95],[740,0.2],[746,0.0],[751,-0.83],[753,0.2],[760,0.05],[766,0.3],[772,0.05],[778,0.3],[784,0.05],[790,-1.91],[792,0.2],[798,0.05],[804,0.3],[810,0.05],[816,0.3],[822,0.05],[828,0.3],[834,0.05],[840,0.25],[843,-0.95],[845,0.2],[850,0.05],[856,0.3],[862,0.05],[868,0.3],[871,-2.72],[873,0.1],[878,0.3],[882,-1.47],[884,0.1],[890,0.3],[896,0.05],[902,0.3],[908,0.05],[914,0.4],[920,0.1],[926,0.45],[932,0.15],[936,0.5],[939,-1.27],[941,0.2],[944,0.45],[947,0.2]];

const pitchOn: Pt[] = [[0,0.2],[3,0.05],[6,0.15],[9,-0.02],[14,0.04],[20,-0.04],[28,0.04],[36,-0.04],[44,0.03],[52,-0.05],[60,0.03],[68,-0.05],[76,0.02],[84,-0.05],[92,0.02],[100,-0.05],[108,0.02],[116,-0.06],[124,0.02],[132,-0.06],[140,0.02],[148,-0.06],[156,0.02],[164,-0.1],[168,0.06],[172,-0.06],[180,0.0],[188,-0.06],[196,0.0],[204,-0.06],[212,0.0],[220,-0.07],[228,-0.01],[236,-0.07],[244,-0.01],[252,-0.07],[260,-0.01],[268,-0.07],[276,-0.02],[284,-0.08],[292,-0.02],[300,-0.08],[308,-0.02],[316,-0.08],[321,-0.3],[323,-0.04],[330,-0.1],[338,0.02],[344,-0.14],[350,0.04],[356,-0.18],[360,-0.27],[362,0.06],[366,-0.16],[370,-0.02],[378,-0.1],[386,-0.04],[394,-0.1],[402,-0.04],[410,-0.1],[418,-0.04],[426,-0.1],[434,-0.04],[442,-0.1],[450,-0.04],[458,-0.1],[466,-0.04],[474,-0.1],[482,-0.04],[490,-0.1],[498,-0.04],[506,-0.1],[514,-0.04],[522,-0.1],[530,-0.04],[538,-0.1],[546,-0.04],[554,-0.1],[562,-0.04],[570,-0.1],[578,-0.04],[586,-0.1],[594,-0.04],[602,-0.1],[608,-0.04],[613,1.02],[615,-0.06],[620,-0.12],[625,-0.02],[629,1.02],[631,-0.1],[636,-0.83],[638,-0.06],[642,0.6],[644,-0.12],[646,-0.59],[648,-0.1],[652,-0.16],[656,-0.08],[659,0.54],[661,-0.16],[666,-0.2],[670,-0.14],[674,-0.24],[678,0.2],[680,-0.22],[684,-0.3],[688,-0.26],[691,-0.35],[693,0.98],[695,-1.4],[697,1.0],[700,-0.9],[702,0.96],[705,-1.5],[707,0.6],[710,-1.45],[712,1.0],[715,-1.1],[717,0.98],[720,-1.5],[722,1.0],[725,-0.95],[727,0.97],[730,-1.5],[732,1.02],[735,-1.3],[737,0.98],[740,-1.51],[742,1.0],[745,-1.0],[747,0.96],[750,-0.9],[752,1.0],[755,-0.88],[757,0.98],[760,-0.9],[762,1.0],[765,-0.85],[767,0.96],[770,-0.9],[772,0.4],[775,-0.88],[777,0.98],[780,-1.2],[782,0.5],[785,-1.5],[787,0.98],[790,-1.5],[792,1.0],[795,-1.2],[797,0.98],[800,-1.51],[802,1.02],[805,-1.48],[807,0.98],[810,-1.5],[812,1.0],[815,-1.3],[817,0.97],[820,-1.51],[822,1.0],[825,-1.45],[827,0.98],[830,-1.5],[832,1.0],[835,-1.1],[837,0.98],[840,-1.5],[842,1.0],[845,-1.48],[847,0.97],[850,-1.2],[852,1.0],[855,-1.5],[857,0.98],[860,-0.9],[862,1.0],[865,-1.51],[867,0.98],[870,-1.45],[872,1.0],[875,-1.5],[877,0.97],[880,-1.3],[882,1.0],[885,-1.5],[887,0.98],[890,-0.95],[892,1.0],[895,-1.48],[897,0.98],[900,-0.9],[902,1.0],[905,-0.95],[907,0.98],[910,-0.9],[912,1.0],[915,-0.92],[917,0.95],[919,0.6],[925,0.64],[931,0.6],[937,0.66],[942,0.68],[947,0.7]];

// ---------------- styling ----------------
const BLUE = '#3b72a8';
const ORANGE = '#dd883c';
const PANEL_BG = '#e3e9f2';
const GRID = '#ffffff';
const SPINE = '#333333';
const TEXT = '#1a1a1a';
const GREEN = '#2e7b1f';
const FONT = 'DejaVu Sans';
const LINE_W = 2.5;

// landscape figure (rotated -90deg onto the page)
const FIG_W = 1600;
const FIG_H = 741;
const COL_LEFT = [64, 572, 1080];
const PANEL_W = 480;
const ROW_TOP = [11, 365];
const ROW_BOTTOM = [340, 693];

type PanelDef = { row: number; col: number; labels: string[]; off: Pt[]; on: Pt[]; legend: 'left' | 'right' };

const PANELS: PanelDef[] = [
  { row: 0, col: 0, labels: dispXLabels, off: dispXOff, on: dispXOn, legend: 'right' },
  { row: 0, col: 1, labels: dispYLabels, off: dispYOff, on: dispYOn, legend: 'right' },
  { row: 0, col: 2, labels: dispX2Labels, off: dispX2Off, on: dispX2On, legend: 'right' },
  { row: 1, col: 0, labels: rollLabels, off: rollOff, on: rollOn, legend: 'left' },
  { row: 1, col: 1, labels: yawLabels, off: yawOff, on: yawOn, legend: 'right' },
  { row: 1, col: 2, labels: pitchLabels, off: pitchOff, on: pitchOn, legend: 'right' },
];

const fmt = (v: number | string) => {
  const n = Number(v);
  return n < 0 ? '\u2212' + Math.abs(n) : String(n);
};

function roundRect(ctx: CanvasRenderingContext2D, x: number, y: number, w: number, h: number, r: number) {
  ctx.beginPath();
  ctx.moveTo(x + r, y);
  ctx.lineTo(x + w - r, y);
  ctx.arcTo(x + w, y, x + w, y + r, r);
  ctx.lineTo(x + w, y + h - r);
  ctx.arcTo(x + w, y + h, x + w - r, y + h, r);
  ctx.lineTo(x + r, y + h);
  ctx.arcTo(x, y + h, x, y + h - r, r);
  ctx.lineTo(x, y + r);
  ctx.arcTo(x, y, x + r, y, r);
  ctx.closePath();
}

const decor = {
  id: 'decor',
  beforeDraw(chart: any) {
    const { ctx, chartArea: a } = chart;
    ctx.save();
    ctx.fillStyle = PANEL_BG;
    ctx.fillRect(a.left, a.top, a.right - a.left, a.bottom - a.top);
    ctx.restore();
  },
  afterDraw(chart: any, _args: any, opts: any) {
    const { ctx, chartArea: a } = chart;
    ctx.save();
    ctx.strokeStyle = SPINE;
    ctx.lineWidth = 1.2;
    ctx.strokeRect(a.left, a.top, a.right - a.left, a.bottom - a.top);

    // legend
    ctx.font = `13px "${FONT}"`;
    const ds = chart.data.datasets;
    const tw = Math.max(...ds.map((d: any) => ctx.measureText(d.label).width));
    const bw = 5 + 28 + 10 + tw + 7;
    const bh = 45;
    const bx = opts.side === 'left' ? a.left + 6 : a.right - 7 - bw;
    const by = a.top + 7;
    roundRect(ctx, bx, by, bw, bh, 4);
    ctx.fillStyle = 'rgba(255,255,255,0.8)';
    ctx.fill();
    ctx.strokeStyle = '#cccccc';
    ctx.lineWidth = 1;
    ctx.stroke();
    ds.forEach((d: any, i: number) => {
      const cy = by + 11.5 + i * 21;
      ctx.strokeStyle = d.borderColor;
      ctx.lineWidth = 2.2;
      ctx.beginPath();
      ctx.moveTo(bx + 5, cy);
      ctx.lineTo(bx + 33, cy);
      ctx.stroke();
      ctx.fillStyle = '#262626';
      ctx.textBaseline = 'middle';
      ctx.textAlign = 'left';
      ctx.fillText(d.label, bx + 43, cy + 0.5);
    });
    ctx.restore();
  },
};

function Panel({ p }: { p: PanelDef }) {
  const ref = useRef<HTMLCanvasElement>(null);
  useEffect(() => {
    if (!ref.current) return;
    const x0 = COL_LEFT[p.col];
    const x1 = x0 + PANEL_W;
    const y0 = ROW_TOP[p.row];
    const y1 = ROW_BOTTOM[p.row];
    const wy = p.col === 0 ? 64 : 8;
    const hx = p.row === 1 ? FIG_H - y1 : 8;
    const isDisp = p.row === 0;
    const yRange = isDisp ? dispRange : rotRange;
    const tickFont = { family: FONT, size: 12.5, weight: 'bold' as const };
    const titleFont = { family: FONT, size: 16, weight: 'bold' as const };
    const gridOpts = { color: GRID, lineWidth: 1.2, drawTicks: true, tickLength: 6, tickColor: SPINE, tickWidth: 1.2 };
    const chart = new Chart(ref.current, {
      type: 'line',
      data: {
        datasets: [
          { label: p.labels[0], data: p.off.map(([x, y]) => ({ x, y })), borderColor: BLUE, backgroundColor: BLUE, order: 1 },
          { label: p.labels[1], data: p.on.map(([x, y]) => ({ x, y })), borderColor: ORANGE, backgroundColor: ORANGE, order: 0 },
        ],
      },
      options: {
        responsive: false,
        maintainAspectRatio: false,
        animation: false,
        events: [],
        layout: { padding: { left: x0 - wy, top: y0, right: FIG_W - x1, bottom: FIG_H - y1 - hx } },
        elements: {
          point: { radius: 0 },
          line: { borderWidth: LINE_W, tension: 0, borderJoinStyle: 'round', fill: false },
        },
        plugins: {
          legend: { display: false },
          tooltip: { enabled: false },
          decor: { side: p.legend },
        } as any,
        scales: {
          x: {
            type: 'linear',
            min: timeRange[0],
            max: timeRange[1],
            afterFit: (s: any) => { s.height = hx; },
            grid: gridOpts,
            border: { display: true, color: SPINE, width: 1.2 },
            ticks: { stepSize: timeStep, includeBounds: false, display: p.row === 1, autoSkip: false, maxRotation: 0, padding: 1, color: TEXT, font: tickFont, callback: fmt },
            title: { display: p.row === 1, text: timeTitle, color: TEXT, font: titleFont, padding: { top: 0, bottom: 1.4 } },
          },
          y: {
            type: 'linear',
            min: yRange[0],
            max: yRange[1],
            afterFit: (s: any) => { s.width = wy; },
            grid: gridOpts,
            border: { display: true, color: SPINE, width: 1.2 },
            ticks: { stepSize: isDisp ? dispStep : rotStep, includeBounds: false, display: p.col === 0, autoSkip: false, padding: 4, color: TEXT, font: tickFont, callback: fmt },
            title: { display: p.col === 0, text: isDisp ? dispTitle : rotTitle, color: TEXT, font: titleFont, padding: { top: 6.4, bottom: 0 } },
          },
        },
      } as any,
      plugins: [decor],
    });
    return () => chart.destroy();
  }, [p]);
  return (
    <canvas
      ref={ref}
      width={FIG_W}
      height={FIG_H}
      style={{ position: 'absolute', left: 0, top: 0, width: FIG_W, height: FIG_H }}
    />
  );
}

// annotation shapes (landscape coordinates)
const arrowPoints = (ax: number, ay: number) => {
  const pts = [
    [ax, ay], [ax - 54, ay + 42], [ax - 54, ay + 13.7], [ax - 85, ay + 13.7],
    [ax - 85, ay - 13.7], [ax - 54, ay - 13.7], [ax - 54, ay - 42],
  ];
  return pts.map((q) => q.join(',')).join(' ');
};

export default function App() {
  useEffect(() => {
    document.body.style.margin = '0';
    document.documentElement.style.overflow = 'hidden';
  }, []);
  return (
    <div
      style={{
        position: 'absolute',
        left: 0,
        top: 0,
        width: FIG_W,
        height: FIG_H,
        background: '#ffffff',
        transformOrigin: '0 0',
        transform: `translateY(${FIG_W}px) rotate(-90deg)`,
      }}
    >
      {PANELS.map((p, i) => (
        <Panel key={i} p={p} />
      ))}
      <svg
        width={FIG_W}
        height={FIG_H}
        viewBox={`0 0 ${FIG_W} ${FIG_H}`}
        style={{ position: 'absolute', left: 0, top: 0, pointerEvents: 'none' }}
      >
        <ellipse cx={475} cy={445} rx={107} ry={113} fill="none" stroke={GREEN} strokeWidth={4} />
        <ellipse cx={1485.5} cy={534.5} rx={107} ry={113} fill="none" stroke={GREEN} strokeWidth={4} />
        <polygon points={arrowPoints(363, 423)} fill={GREEN} />
        <polygon points={arrowPoints(1383.3, 469.3)} fill={GREEN} />
      </svg>
    </div>
  );
}
